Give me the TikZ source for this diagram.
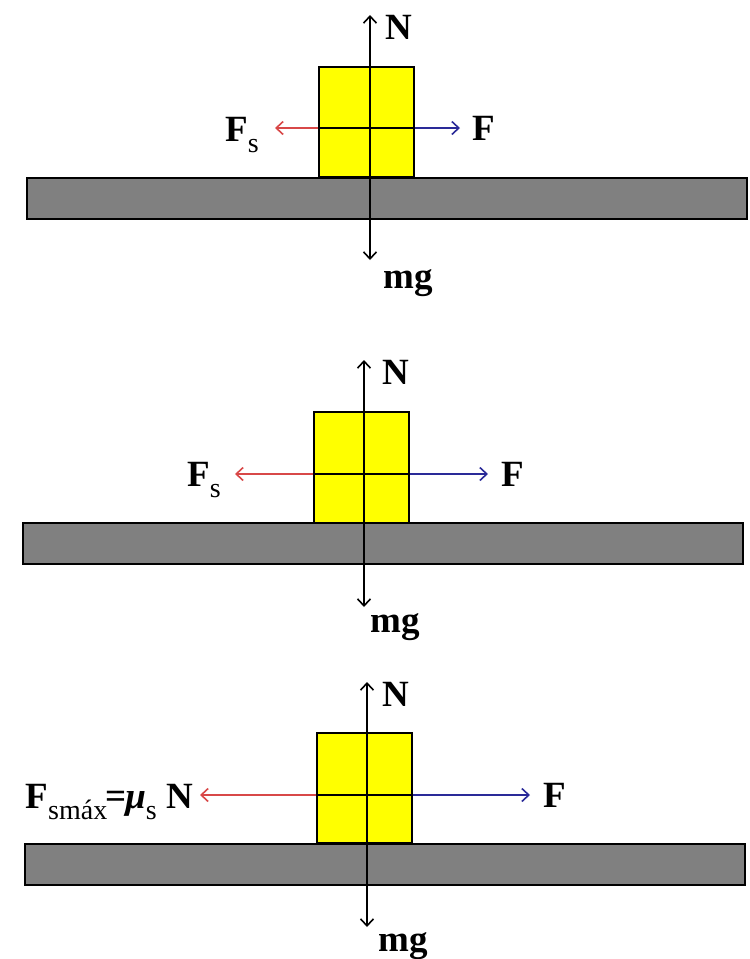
\documentclass[tikz,border=0pt]{standalone}
\usepackage{fontspec}
\setmainfont{Liberation Serif}
\usepackage{xcolor}
\usetikzlibrary{arrows.meta,positioning}

\definecolor{blockyellow}{HTML}{FFFF00}
\definecolor{groundgray}{HTML}{808080}
\definecolor{fricred}{HTML}{D84848}
\definecolor{pushblue}{HTML}{2A2A98}
\newcommand{\lowidx}[1]{\raisebox{-11pt}{\fontsize{28}{28}\selectfont\mdseries #1}}

\begin{document}
\begin{tikzpicture}[x=1pt, y=-1pt,
  ground/.style={draw=black, line width=1.6pt, fill=groundgray, inner sep=0pt,
                 minimum width=720pt, minimum height=41pt},
  block/.style={draw=black, line width=1.6pt, fill=blockyellow, inner sep=0pt,
                minimum width=95pt, minimum height=110pt},
  vec/.style={-{Straight Barb[length=7pt,width=13pt]}, line width=1.6pt, black},
  fric/.style={vec, fricred},
  push/.style={vec, pushblue},
  lbl/.style={font=\bfseries\fontsize{37}{37}\selectfont, inner sep=0pt}
]
  \useasboundingbox (0,0) rectangle (750,959);
  % Panel 1
  \node[ground] (g1) at (387,198.5) {};
  \node[block]  (b1) at (366.5,122) {};
  \coordinate (o1) at (370,128);
  \coordinate (n1) at (370,15);
  \coordinate (w1) at (370,260);
  \coordinate (s1) at (275,128);
  \coordinate (f1) at (460,128);
  \draw[vec] (o1) -- (n1);
  \draw[vec] (o1) -- (w1);
  \draw[line width=1.6pt] (b1.west |- o1) -- (b1.east |- o1);
  \draw[fric] (b1.west |- o1) -- (s1);
  \draw[push] (b1.east |- o1) -- (f1);
  \node[lbl, below right=0pt and 15pt of n1] (tn1) {N};
  \node[lbl, below right=9pt and 13pt of w1] (tw1) {mg};
  \node[lbl, right=12pt of f1] (tf1) {F};
  \node[lbl, anchor=base east] (ts1) at (259,141) {F\lowidx{s}};
  % Panel 2
  \node[ground] (g2) at (383,543.5) {};
  \node[block, minimum height=111pt] (b2) at (361.5,467.5) {};
  \coordinate (o2) at (364,474);
  \coordinate (n2) at (364,360);
  \coordinate (w2) at (364,607);
  \coordinate (s2) at (235,474);
  \coordinate (f2) at (488,474);
  \draw[vec] (o2) -- (n2);
  \draw[vec] (o2) -- (w2);
  \draw[line width=1.6pt] (b2.west |- o2) -- (b2.east |- o2);
  \draw[fric] (b2.west |- o2) -- (s2);
  \draw[push] (b2.east |- o2) -- (f2);
  \node[lbl, below right=0pt and 18pt of n2] (tn2) {N};
  \node[lbl, below right=6pt and 6pt of w2] (tw2) {mg};
  \node[lbl, right=13pt of f2] (tf2) {F};
  \node[lbl, anchor=base east] (ts2) at (221,486) {F\lowidx{s}};
  % Panel 3
  \node[ground] (g3) at (385,864.5) {};
  \node[block]  (b3) at (364.5,788) {};
  \coordinate (o3) at (367,795);
  \coordinate (n3) at (367,682);
  \coordinate (w3) at (367,927);
  \coordinate (s3) at (200,795);
  \coordinate (f3) at (530,795);
  \draw[vec] (o3) -- (n3);
  \draw[vec] (o3) -- (w3);
  \draw[line width=1.6pt] (b3.west |- o3) -- (b3.east |- o3);
  \draw[fric] (b3.west |- o3) -- (s3);
  \draw[push] (b3.east |- o3) -- (f3);
  \node[lbl, below right=0pt and 15pt of n3] (tn3) {N};
  \node[lbl, below right=5pt and 11pt of w3] (tw3) {mg};
  \node[lbl, right=13pt of f3] (tf3) {F};
  \node[lbl, anchor=base east] (ts3) at (193,808)
    {F\lowidx{smáx}\kern-2pt=\kern-1pt{\itshape μ}\lowidx{s}\ N};
\end{tikzpicture}
\end{document}
